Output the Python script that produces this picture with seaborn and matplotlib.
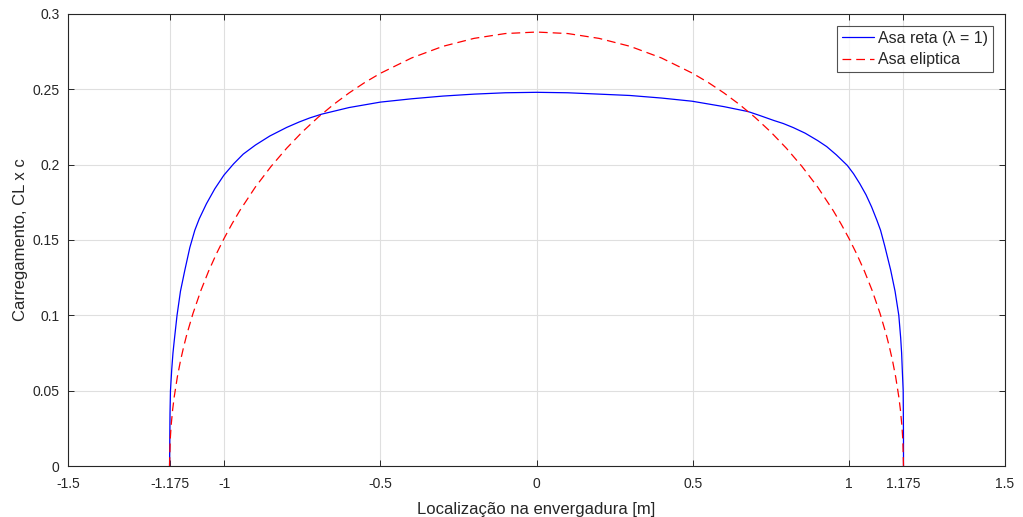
import matplotlib
matplotlib.use("Agg")
import matplotlib.pyplot as plt
import seaborn as sns
import pandas as pd

# ---- data ----
x_reta = [-1.175, -1.1745, -1.174, -1.1735, -1.172, -1.168, -1.164, -1.16, -1.151, -1.14,
          -1.126, -1.11, -1.094, -1.08, -1.057, -1.03, -1.001, -0.97, -0.939, -0.9,
          -0.854, -0.8, -0.76, -0.726, -0.688, -0.6, -0.5, -0.4, -0.3, -0.2, -0.1,
          0.0, 0.1, 0.2, 0.299, 0.4, 0.498, 0.6, 0.678, 0.715, 0.76, 0.79, 0.822, 0.86,
          0.9, 0.929, 0.96, 0.995, 1.015, 1.035, 1.055, 1.073, 1.09, 1.1015, 1.115, 1.134,
          1.148, 1.16, 1.166, 1.169, 1.1715, 1.174, 1.1745, 1.175, 1.175]
y_reta = [0.0, 0.012, 0.024, 0.035, 0.050, 0.064, 0.075, 0.083, 0.100, 0.116,
          0.130, 0.145, 0.1565, 0.164, 0.174, 0.184, 0.193, 0.2005, 0.207, 0.213,
          0.219, 0.2247, 0.2283, 0.231, 0.2335, 0.2379, 0.2415, 0.2437, 0.2455, 0.2468, 0.2477,
          0.248, 0.2477, 0.2468, 0.2459, 0.2442, 0.2421, 0.2385, 0.2352, 0.2326, 0.2293, 0.2273, 0.2246, 0.2209,
          0.2160, 0.2120, 0.2065, 0.1995, 0.1940, 0.1874, 0.1800, 0.1719, 0.1630, 0.1565, 0.146, 0.130,
          0.116, 0.100, 0.085, 0.075, 0.062, 0.050, 0.035, 0.018, 0.0]

x_elip = [-1.175, -1.173, -1.17, -1.165, -1.16, -1.15, -1.14, -1.13, -1.12, -1.1, -1.075,
          -1.05, -1.025, -1.0, -0.975, -0.95, -0.9, -0.85, -0.8, -0.75, -0.7, -0.65,
          -0.6, -0.55, -0.5, -0.4, -0.3, -0.2, -0.1, 0.0, 0.1, 0.2, 0.3, 0.4, 0.5,
          0.55, 0.6, 0.65, 0.7, 0.75, 0.8, 0.85, 0.9, 0.95, 0.975, 1.0, 1.025, 1.05,
          1.075, 1.1, 1.12, 1.13, 1.14, 1.15, 1.16, 1.165, 1.17, 1.173, 1.175]
y_elip = [0.0, 0.0168, 0.0266, 0.0375, 0.0459, 0.0591, 0.0698, 0.0789, 0.0871, 0.1012, 0.1163,
          0.1293, 0.1408, 0.1512, 0.1607, 0.1695, 0.1852, 0.1988, 0.2109, 0.2217, 0.2313, 0.2399,
          0.2476, 0.2545, 0.2606, 0.2708, 0.2785, 0.2838, 0.2870, 0.288, 0.2870, 0.2838, 0.2785, 0.2708, 0.2606,
          0.2545, 0.2476, 0.2399, 0.2313, 0.2217, 0.2109, 0.1988, 0.1852, 0.1695, 0.1607, 0.1512, 0.1408, 0.1293,
          0.1163, 0.1012, 0.0871, 0.0789, 0.0698, 0.0591, 0.0459, 0.0375, 0.0266, 0.0168, 0.0]

x_ticks = [-1.5, -1.175, -1, -0.5, 0, 0.5, 1, 1.175, 1.5]
x_tick_labels = ["-1.5", "-1.175", "-1", "-0.5", "0", "0.5", "1", "1.175", "1.5"]
y_ticks = [0, 0.05, 0.1, 0.15, 0.2, 0.25, 0.3]
y_tick_labels = ["0", "0.05", "0.1", "0.15", "0.2", "0.25", "0.3"]

label_reta = "Asa reta (λ = 1)"
label_elip = "Asa eliptica"

# ---- plot ----
sns.set_theme(style="white")
plt.rcParams["font.family"] = ["Liberation Sans", "DejaVu Sans"]

fig = plt.figure(figsize=(10.23, 5.17), dpi=100)
ax = fig.add_axes([0.0665, 0.0986, 0.9159, 0.8744])

df_r = pd.DataFrame({"x": x_reta, "y": y_reta})
df_e = pd.DataFrame({"x": x_elip, "y": y_elip})

sns.lineplot(data=df_r, x="x", y="y", sort=False, ax=ax, color="#0000ff",
             linewidth=0.9, label=label_reta, estimator=None)
sns.lineplot(data=df_e, x="x", y="y", sort=False, ax=ax, color="#ff0000",
             linewidth=0.9, label=label_elip, estimator=None)
ax.lines[1].set_dashes([7, 4])

ax.set_xlim(-1.5, 1.5)
ax.set_ylim(0, 0.3)
ax.set_xticks(x_ticks)
ax.set_xticklabels(x_tick_labels)
ax.set_yticks(y_ticks)
ax.set_yticklabels(y_tick_labels)

ax.grid(True, color="#dfdfdf", linewidth=0.8)
ax.set_axisbelow(True)
for s in ax.spines.values():
    s.set_color("#262626")
    s.set_linewidth(0.8)
    s.set_visible(True)

ax.tick_params(axis="both", direction="in", length=4, width=0.7, colors="#262626",
               labelsize=10, top=True, right=True, bottom=True, left=True)
ax.tick_params(axis="x", pad=8)
ax.tick_params(axis="y", pad=6)
for lab in ax.get_xticklabels() + ax.get_yticklabels():
    lab.set_color("#262626")

ax.set_xlabel("Localização na envergadura [m]", fontsize=12, color="#262626", labelpad=8)
ax.set_ylabel("Carregamento, CL x c", fontsize=12, color="#262626", labelpad=3)

leg = ax.legend(loc="upper right", fontsize=11.5, frameon=True, fancybox=False,
                edgecolor="#262626", borderaxespad=0.75, handlelength=2.0,
                borderpad=0.3, labelspacing=0.42, handletextpad=0.25)
leg.get_frame().set_linewidth(0.8)
for t in leg.get_texts():
    t.set_color("#262626")

fig.savefig("out.png", dpi=100, facecolor="white")
